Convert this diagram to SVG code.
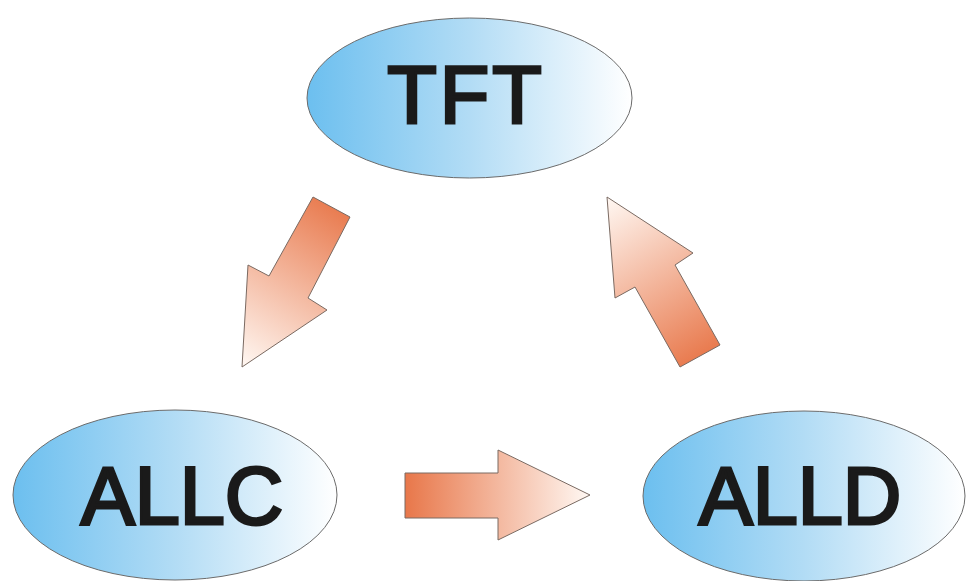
<svg xmlns="http://www.w3.org/2000/svg" width="969" height="581" viewBox="0 0 969 581">
<defs>
<linearGradient id="blue" x1="0" y1="0" x2="1" y2="0">
<stop offset="0" stop-color="#6cbfef"/>
<stop offset="0.5" stop-color="#b2dcf5"/>
<stop offset="1" stop-color="#ffffff"/>
</linearGradient>
<linearGradient id="g1" gradientUnits="userSpaceOnUse" x1="345" y1="205" x2="242" y2="367">
<stop offset="0" stop-color="#e8774a"/>
<stop offset="1" stop-color="#fff8f3"/>
</linearGradient>
<linearGradient id="g2" gradientUnits="userSpaceOnUse" x1="405" y1="495" x2="590" y2="495">
<stop offset="0" stop-color="#e8774a"/>
<stop offset="1" stop-color="#fff8f3"/>
</linearGradient>
<linearGradient id="g3" gradientUnits="userSpaceOnUse" x1="705" y1="360" x2="607" y2="197">
<stop offset="0" stop-color="#e8774a"/>
<stop offset="1" stop-color="#fff8f3"/>
</linearGradient>
</defs>
<style>
.node ellipse{fill:url(#blue);stroke:#6b6b6b;stroke-width:1}
.node text{font-family:"Liberation Sans",Arial,sans-serif;font-size:81px;fill:#1a1a1a;stroke:#1a1a1a;stroke-width:3;stroke-linejoin:miter;text-anchor:middle}
.arrow{stroke:#7a6a62;stroke-width:1}
</style>
<rect width="969" height="581" fill="#ffffff"/>
<g id="connectors">
<polygon class="arrow" fill="url(#g1)" points="313,197 350,217 308,298 327,310 242,367 248,265 269,276"/>
<polygon class="arrow" fill="url(#g2)" points="405,473 498,473 498,450 590,495 498,540 498,518 405,518"/>
<polygon class="arrow" fill="url(#g3)" points="607,197 693,253 675,265 720,345 680,367 635,287 615,298"/>
</g>
<g id="TFT" class="node">
<ellipse cx="469.5" cy="98" rx="162.5" ry="80"/>
<text x="466" y="123" letter-spacing="3">TFT</text>
</g>
<g id="ALLC" class="node">
<ellipse cx="175" cy="495" rx="162" ry="85"/>
<text x="182" y="524">ALLC</text>
</g>
<g id="ALLD" class="node">
<ellipse cx="804" cy="496" rx="161" ry="85"/>
<text x="800" y="524">ALLD</text>
</g>
</svg>
